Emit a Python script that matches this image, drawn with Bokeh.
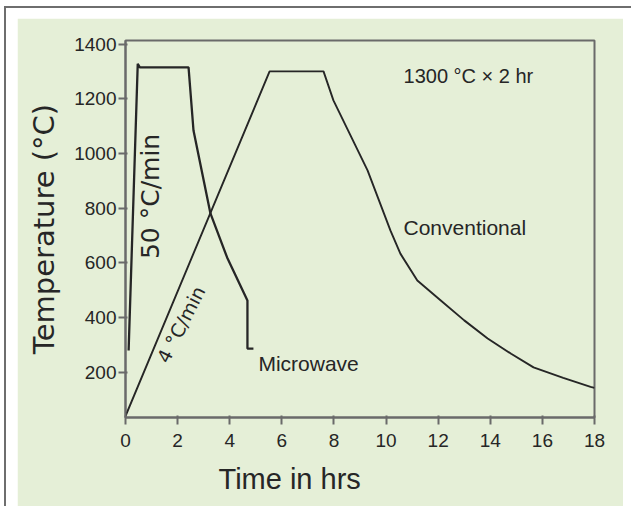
import math

from bokeh.plotting import figure
from bokeh.models import Label, Range1d, FixedTicker, Title, Spacer, Div
from bokeh.layouts import column, row
from bokeh.embed import file_html
from bokeh.resources import INLINE

# Sintering schedules: time (h) against furnace temperature (°C)
microwave_t = [0.12, 0.47, 0.55, 2.42, 2.61, 3.26, 3.90, 4.68, 4.68, 4.91]
microwave_T = [280, 1328, 1315, 1315, 1084, 781, 620, 463, 287, 287]

conventional_t = [0.0, 5.53, 7.60, 7.98, 9.29, 10.17, 10.55, 11.2, 12.1,
                  13.0, 13.9, 14.8, 15.66, 16.8, 17.85, 18.0]
conventional_T = [40, 1300, 1300, 1194, 938, 718, 634, 536, 463,
                  390, 324, 268, 218, 180, 147, 143]

x_ticks = [0, 2, 4, 6, 8, 10, 12, 14, 16, 18]
y_ticks = [200, 400, 600, 800, 1000, 1200, 1400]

GREEN = "#e5efd7"
INK = "#262626"
AXIS = "#6a6a6a"
RULE = "#6e6e6e"
SANS = "Liberation Sans"

p = figure(width=606, height=488, output_backend="svg", toolbar_location=None,
           x_range=Range1d(0, 18), y_range=Range1d(35, 1413),
           min_border_left=108, min_border_right=29,
           min_border_top=22, min_border_bottom=89)
p.background_fill_color = GREEN
p.border_fill_color = GREEN
p.outline_line_color = AXIS
p.outline_line_width = 2
p.xgrid.visible = False
p.ygrid.visible = False

p.line(conventional_t, conventional_T, line_color=INK, line_width=1.9)
p.line(microwave_t, microwave_T, line_color=INK, line_width=2.3)

for ax, ticks in ((p.xaxis, x_ticks), (p.yaxis, y_ticks)):
    ax.ticker = FixedTicker(ticks=ticks)
    ax.minor_tick_line_color = None
    ax.axis_line_color = AXIS
    ax.axis_line_width = 2
    ax.major_tick_line_color = AXIS
    ax.major_tick_line_width = 2
    ax.major_tick_out = 7
    ax.major_tick_in = 2
    ax.major_label_text_font = SANS
    ax.major_label_text_font_size = "19px"
    ax.major_label_text_color = INK

p.xaxis.major_label_standoff = 9
p.yaxis.major_label_standoff = 2

p.yaxis.axis_label = "Temperature (°C)"
p.yaxis.axis_label_text_font = "DejaVu Sans"
p.yaxis.axis_label_text_font_size = "29px"
p.yaxis.axis_label_text_font_style = "normal"
p.yaxis.axis_label_text_color = INK
p.yaxis.axis_label_standoff = 10

# x-axis title sits left of centre, so it goes in a title panel below
p.add_layout(Title(text="Time in hrs", align="left", offset=93, standoff=22,
                   text_font=SANS, text_font_size="29px",
                   text_line_height=0.9,
                   text_font_style="normal", text_color=INK), "below")

notes = [
    ("1300 °C × 2 hr", 10.67, 1285, 0.0, "left", SANS, "20px"),
    ("Conventional", 10.67, 729, 0.0, "left", SANS, "21px"),
    ("Microwave", 5.10, 232, 0.0, "left", SANS, "21px"),
    ("50 °C/min", 0.96, 843, math.pi / 2, "center", "DejaVu Sans", "25px"),
    ("4 °C/min", 2.13, 376, math.radians(63), "center", "DejaVu Sans", "19px"),
]
for text, x, y, ang, align, font, size in notes:
    p.add_layout(Label(x=x, y=y, text=text, angle=ang, text_font=font,
                       text_font_size=size, text_color=INK,
                       text_align=align, text_baseline="middle"))


def rule(w, h):
    # solid grey strip used for the page frame
    return Div(width=w, height=h, margin=0,
               text=f'<div style="position:absolute;left:0;top:0;'
                    f'width:{w}px;height:{h}px;background:{RULE}"></div>')


inner = column(Spacer(height=10), row(Spacer(width=11), p))
panel = column(rule(627, 2), row(rule(2, 498), inner))
page = column(Spacer(height=6), row(Spacer(width=4), panel))

with open("out.html", "w") as fh:
    fh.write(file_html(page, INLINE))
